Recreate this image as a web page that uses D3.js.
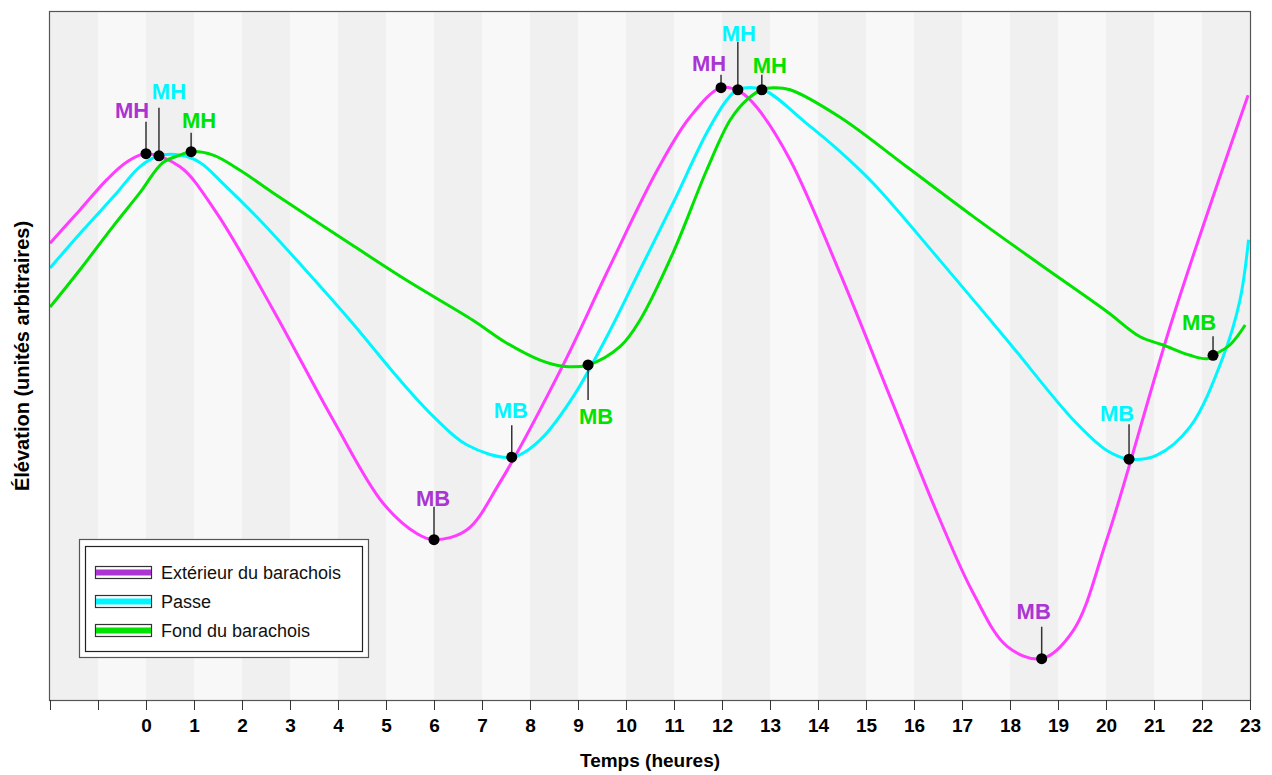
<!DOCTYPE html>
<html>
<head>
<meta charset="utf-8">
<script src="https://cdn.jsdelivr.net/npm/d3@7"></script>
<style>
body{margin:0;background:#fff;}
text{font-family:"Liberation Sans",Arial,Helvetica,sans-serif;}
</style>
</head>
<body>
<svg id="chart" width="1272" height="775"></svg>
<script>
// elevation curves (hours, arbitrary units)
var extHours = [-2,-1.38,-0.82,-0.40,0,0.71,1.47,2.65,3.90,4.94,5.64,6.0,6.68,7.38,8.69,9.60,10.65,11.33,11.98,12.38,12.72,13.42,14.46,15.50,16.54,17.23,17.94,18.66,19.31,20.02,21.40,22.96];
var extVals  = [66.4,71.2,75.6,78.2,79.4,77.5,70.8,56.7,40.7,28.6,24.2,23.3,24.7,31.7,48.7,62.1,77.0,84.7,89.0,88.4,86.2,78.5,62.0,44.1,26.2,15.6,7.8,6.0,10.0,23.4,55.7,87.9];

var passeHours = [-2,-1.31,-0.61,-0.13,0.27,0.71,1.13,1.60,2.31,3.0,4.25,5.29,5.99,6.68,7.62,8.21,8.90,9.60,10.29,10.98,11.68,12.10,12.33,12.85,13.76,14.46,15.15,16.54,17.94,19.32,20.01,20.48,21.06,21.75,22.44,22.79,22.97];
var passeVals  = [62.8,68.3,73.7,77.5,79.1,79.2,78.1,75.1,70.2,65.0,55.2,46.5,41.2,37.1,35.3,37.8,44.1,52.8,62.5,72.2,82.4,87.2,88.7,88.7,83.8,79.7,75.1,63.9,52.3,40.7,36.3,35.0,35.6,39.7,49.9,58.1,66.9];

var fondHours = [-2,-1.38,-0.69,-0.13,0.35,0.71,0.94,1.40,1.96,2.65,4.04,5.43,6.81,7.51,8.21,8.69,9.21,9.88,10.29,10.98,11.68,12.17,12.51,12.83,13.06,13.42,14.46,15.85,17.23,18.63,20.01,20.71,21.19,21.75,22.10,22.23,22.58,22.90];
var fondVals  = [57.1,62.5,68.8,73.7,78.1,79.2,79.7,79.2,77.0,73.7,67.3,61.0,55.2,51.9,49.4,48.5,48.7,51.4,55.2,65.0,77.0,84.3,87.2,88.7,89.0,88.7,84.7,77.5,70.3,63.3,56.5,52.8,51.6,50.1,49.6,50.1,51.6,54.5];

var seriesNames = ["Extérieur du barachois","Passe","Fond du barachois"];

// high (MH) / low (MB) water marks
var markSeries = [0,1,2,0,1,2,0,1,2,0,1,2];
var markTypes  = ["MH","MH","MH","MB","MB","MB","MH","MH","MH","MB","MB","MB"];
var markHours  = [0,0.27,0.94,6.0,7.62,9.21,11.98,12.33,12.83,18.66,20.48,22.23];

var hourTicks = d3.range(-2,24);

// label placement (px): stem length (negative = downward), text offsets
var stemLen = [32,48,19,33,32,-35,13,48,15,32,35,19];
var labDx   = [-14,10,8,-1,-1,8,-12,1,8,-8,-12,-14];
var labDy   = [-36,-57,-24,-34,-39,59,-17,-49,-17,-40,-38,-25];

var lineColors  = ["#ff3cff","#00f6ff","#00e200"];
var labelColors = ["#aa35d2","#00f6ff","#00e200"];

var svg = d3.select("#chart");
var L = 50, R = 1250, T = 12, B = 700;

var x = d3.scaleLinear().domain([-2,23]).range([L,R]);
var y = d3.scaleLinear().domain([0,100]).range([B,T]);

// hour bands
svg.append("g").selectAll("rect")
    .data(d3.range(-2,23))
    .enter().append("rect")
    .attr("x", function(d){ return x(d); })
    .attr("y", T)
    .attr("width", function(d){ return x(d+1)-x(d); })
    .attr("height", B-T)
    .attr("fill", function(d){ return (d+2)%2==0 ? "#f0f0f0" : "#f8f8f8"; });

var allSeries = [
    d3.zip(extHours, extVals),
    d3.zip(passeHours, passeVals),
    d3.zip(fondHours, fondVals)
];

var line = d3.line()
    .x(function(d){ return x(d[0]); })
    .y(function(d){ return y(d[1]); })
    .curve(d3.curveCatmullRom.alpha(0.5));

svg.append("g").selectAll("path")
    .data(allSeries)
    .enter().append("path")
    .attr("d", line)
    .attr("fill","none")
    .attr("stroke", function(d,i){ return lineColors[i]; })
    .attr("stroke-width",3);

// marks
function markValue(i){
    var s = allSeries[markSeries[i]];
    for (var k=0;k<s.length;k++){
        if (s[k][0]==markHours[i]) return s[k][1];
    }
    return 0;
}

var marks = svg.append("g");
for (var i=0;i<markHours.length;i++){
    var mx = x(markHours[i]), my = y(markValue(i));
    marks.append("line")
        .attr("x1",mx).attr("x2",mx)
        .attr("y1",my).attr("y2",my-stemLen[i])
        .attr("stroke","#333").attr("stroke-width",1.5);
    marks.append("circle")
        .attr("cx",mx).attr("cy",my).attr("r",5.5)
        .attr("fill","#000");
    marks.append("text")
        .attr("x",mx+labDx[i]).attr("y",my+labDy[i])
        .attr("text-anchor","middle")
        .attr("font-size",22).attr("font-weight","bold")
        .attr("fill",labelColors[markSeries[i]])
        .text(markTypes[i]);
}

// frame
svg.append("rect")
    .attr("x",L-0.5).attr("y",T-0.5)
    .attr("width",R-L+1).attr("height",B-T+1)
    .attr("fill","none").attr("stroke","#555").attr("stroke-width",1.2);

// x axis
var xAxis = d3.axisBottom(x)
    .tickValues(hourTicks)
    .tickFormat(function(d){ return d<0 ? "" : d; })
    .tickSize(10)
    .tickPadding(9);
var ax = svg.append("g").attr("transform","translate(0,"+B+")").call(xAxis);
ax.select(".domain").attr("stroke","#555");
ax.selectAll(".tick line").attr("stroke","#333");
ax.selectAll(".tick text")
    .attr("font-size",19).attr("font-weight","bold")
    .attr("fill","#000")
    .attr("font-family","Liberation Sans, Arial, sans-serif");

svg.append("text")
    .attr("x",(L+R)/2).attr("y",767)
    .attr("text-anchor","middle")
    .attr("font-size",19).attr("font-weight","bold")
    .text("Temps (heures)");

svg.append("text")
    .attr("transform","translate(29,"+((T+B)/2)+") rotate(-90)")
    .attr("text-anchor","middle")
    .attr("font-size",20).attr("font-weight","bold")
    .text("Élévation (unités arbitraires)");

// legend
var lg = svg.append("g");
lg.append("rect").attr("x",79.5).attr("y",539.5).attr("width",289).attr("height",118)
    .attr("fill","#fff").attr("stroke","#555").attr("stroke-width",1.2);
lg.append("rect").attr("x",85.5).attr("y",546.5).attr("width",277).attr("height",105)
    .attr("fill","none").attr("stroke","#222").attr("stroke-width",1.2);
seriesNames.forEach(function(name,i){
    var ry = 572.5 + i*29;
    lg.append("rect").attr("x",95.5).attr("y",ry-6).attr("width",56).attr("height",12)
        .attr("fill","#fff").attr("stroke","#333").attr("stroke-width",1.2);
    lg.append("rect").attr("x",96).attr("y",ry-3).attr("width",55).attr("height",6)
        .attr("fill",labelColors[i]);
    lg.append("text").attr("x",161).attr("y",ry+6.5)
        .attr("font-size",18).attr("fill","#111")
        .text(name);
});
</script>
</body>
</html>
